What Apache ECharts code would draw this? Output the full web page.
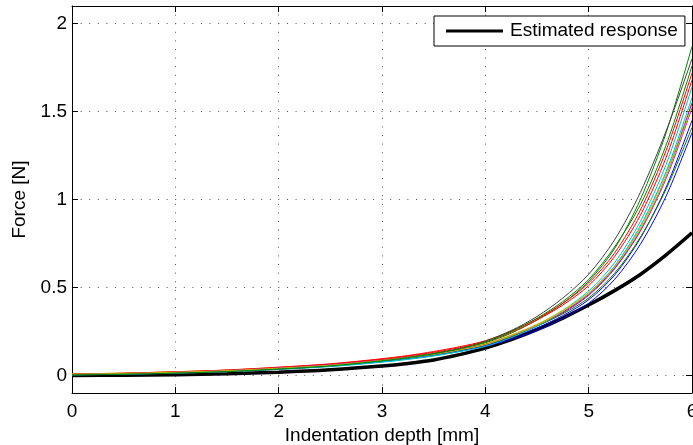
<!DOCTYPE html>
<html><head><meta charset="utf-8">
<script src="https://cdn.jsdelivr.net/npm/echarts@6/dist/echarts.min.js"></script>
<style>html,body{margin:0;padding:0;background:#fff}#c{width:693px;height:445px}</style>
</head><body><div id="c"></div>
<script>
const xs = [0,0.5,1,1.5,2,2.5,3,3.25,3.5,3.75,4,4.25,4.5,4.75,5,5.25,5.5,5.75,6];
const estimated = [0,0.001,0.004,0.009,0.018,0.032,0.053,0.068,0.088,0.118,0.155,0.203,0.26,0.326,0.40,0.482,0.574,0.685,0.81];
const trial1  = [0.004,0.008,0.015,0.024,0.037,0.054,0.079,0.095,0.114,0.137,0.165,0.205,0.255,0.325,0.41,0.545,0.745,1.02,1.38];
const trial2  = [0.006,0.011,0.018,0.028,0.042,0.06,0.088,0.105,0.126,0.152,0.185,0.24,0.315,0.41,0.535,0.72,1.00,1.38,1.87];
const trial3  = [0.008,0.013,0.021,0.031,0.047,0.066,0.095,0.113,0.136,0.163,0.197,0.252,0.322,0.41,0.525,0.695,0.94,1.28,1.72];
const trial4  = [0.003,0.007,0.013,0.021,0.034,0.05,0.075,0.091,0.11,0.136,0.17,0.22,0.285,0.37,0.48,0.64,0.875,1.2,1.64];
const trial5  = [0.005,0.01,0.017,0.027,0.041,0.058,0.085,0.1,0.12,0.145,0.175,0.22,0.28,0.355,0.455,0.605,0.82,1.12,1.52];
const trial6  = [0.009,0.013,0.02,0.029,0.043,0.06,0.087,0.103,0.123,0.149,0.18,0.23,0.29,0.37,0.47,0.62,0.84,1.15,1.55];
const trial7  = [0.002,0.006,0.012,0.021,0.035,0.053,0.083,0.101,0.124,0.154,0.195,0.255,0.335,0.44,0.575,0.77,1.04,1.39,1.80];
const trial8  = [0.005,0.009,0.016,0.025,0.039,0.056,0.082,0.097,0.117,0.141,0.17,0.215,0.27,0.34,0.43,0.57,0.78,1.07,1.45];
const trial9  = [0.004,0.009,0.016,0.026,0.04,0.057,0.084,0.1,0.119,0.144,0.175,0.22,0.28,0.35,0.44,0.58,0.785,1.06,1.41];
const trial10 = [0.007,0.012,0.02,0.03,0.045,0.064,0.092,0.11,0.131,0.158,0.19,0.245,0.315,0.40,0.51,0.675,0.91,1.24,1.68];
const trial11 = [0.004,0.008,0.014,0.023,0.036,0.052,0.077,0.093,0.112,0.136,0.165,0.215,0.28,0.36,0.465,0.62,0.85,1.16,1.58];
const trial12 = [0.006,0.011,0.018,0.028,0.042,0.06,0.086,0.102,0.121,0.146,0.175,0.225,0.285,0.36,0.46,0.61,0.825,1.13,1.55];
const trial13 = [0.007,0.011,0.018,0.027,0.041,0.058,0.085,0.101,0.12,0.145,0.175,0.225,0.285,0.365,0.465,0.615,0.83,1.13,1.53];
const trial14 = [0.003,0.007,0.013,0.022,0.036,0.054,0.083,0.101,0.123,0.151,0.19,0.25,0.325,0.42,0.545,0.73,0.97,1.31,1.76];
const trials = [trial1,trial2,trial3,trial4,trial5,trial6,trial7,trial8,trial9,trial10,trial11,trial12,trial13,trial14];
const trialColors = ['#0000ff','#008000','#ff0000','#00bfbf','#bf00bf','#bfbf00','#404040',
                     '#0000ff','#008000','#ff0000','#00bfbf','#bf00bf','#bfbf00','#008000'];
const xTicks = [0,1,2,3,4,5,6];
const yTicks = [0,0.5,1,1.5,2];

const FONT = 'Liberation Sans';
const FS = 19;
const pairs = v => xs.map((x,i)=>[x,v[i]]);
const grid = {type:[1,7.6], color:'#555', width:1};

const series = [];
series.push({name:'Estimated response', type:'line', data:pairs(estimated), smooth:0.3,
  showSymbol:false, lineStyle:{color:'#000', width:3.5}, itemStyle:{color:'#000'}, z:2, silent:true});
trials.forEach((t,i)=>{
  series.push({name:'trial'+(i+1), type:'line', data:pairs(t), smooth:0.3,
    showSymbol:false, lineStyle:{color:trialColors[i], width:1}, z:3, silent:true});
});

const chart = echarts.init(document.getElementById('c'), null, {renderer:'canvas'});
chart.setOption({
  animation:false,
  textStyle:{fontFamily:FONT},
  grid:{left:72, right:1, top:6, bottom:52, containLabel:false, outerBoundsMode:'none'},
  legend:{data:[{name:'Estimated response', icon:'rect'}], left:434, top:16, orient:'horizontal',
    itemWidth:57, itemHeight:3, itemGap:0, padding:[5,7,5,12],
    backgroundColor:'#fff', borderColor:'#000', borderWidth:1, borderRadius:0,
    textStyle:{fontFamily:FONT, fontSize:FS, color:'#000', lineHeight:20, padding:[0,0,0,2]}, selectedMode:false},
  xAxis:[
    {type:'value', min:0, max:6, interval:1, position:'bottom',
     name:'Indentation depth [mm]', nameLocation:'middle', nameGap:29,
     nameTextStyle:{fontFamily:FONT, fontSize:FS, color:'#000'},
     axisLine:{show:true, onZero:false, lineStyle:{color:'#000', width:1}},
     axisTick:{show:true, inside:true, length:6, lineStyle:{color:'#000'}},
     axisLabel:{fontFamily:FONT, fontSize:FS, color:'#000', margin:9},
     splitLine:{show:true, lineStyle:grid}},
    {type:'value', min:0, max:6, interval:1, position:'top',
     axisLine:{show:true, onZero:false, lineStyle:{color:'#000', width:1}},
     axisTick:{show:true, inside:true, length:6, lineStyle:{color:'#000'}},
     axisLabel:{show:false}, splitLine:{show:false}}
  ],
  yAxis:[
    {type:'value', min:-0.1, max:2.1, position:'left',
     name:'Force [N]', nameLocation:'middle', nameGap:41, nameRotate:90,
     nameTextStyle:{fontFamily:FONT, fontSize:FS, color:'#000'},
     axisLine:{show:true, onZero:false, lineStyle:{color:'#000', width:1}},
     axisTick:{show:true, inside:true, length:6, customValues:yTicks, lineStyle:{color:'#000'}},
     axisLabel:{fontFamily:FONT, fontSize:FS, color:'#000', margin:5, customValues:yTicks},
     splitLine:{show:true, lineStyle:grid}},
    {type:'value', min:-0.1, max:2.1, position:'right',
     axisLine:{show:true, onZero:false, lineStyle:{color:'#000', width:1}},
     axisTick:{show:true, inside:true, length:6, customValues:yTicks, lineStyle:{color:'#000'}},
     axisLabel:{show:false}, splitLine:{show:false}}
  ],
  series:series
});
</script></body></html>
